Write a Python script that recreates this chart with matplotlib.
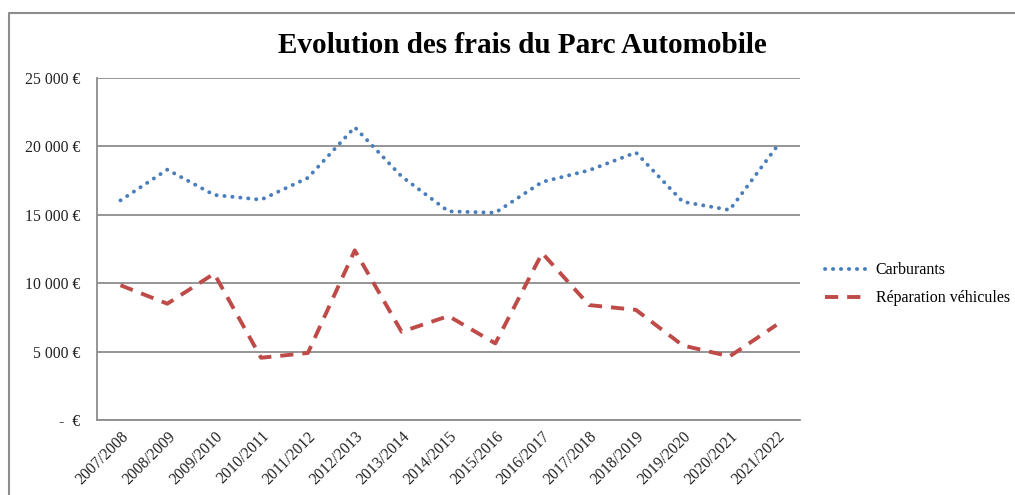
import matplotlib
matplotlib.use("Agg")
import matplotlib.pyplot as plt
from matplotlib.lines import Line2D
from matplotlib.ticker import FuncFormatter

plt.rcParams['font.family'] = ['Liberation Serif', 'DejaVu Serif']

years = ["2007/2008", "2008/2009", "2009/2010", "2010/2011", "2011/2012",
         "2012/2013", "2013/2014", "2014/2015", "2015/2016", "2016/2017",
         "2017/2018", "2018/2019", "2019/2020", "2020/2021", "2021/2022"]
carburants = [16050, 18300, 16450, 16100, 17700, 21400, 17800, 15250,
              15150, 17400, 18250, 19550, 15950, 15350, 19950]
reparation = [9850, 8500, 10700, 4550, 4900, 12400, 6450, 7600,
              5600, 12200, 8400, 8050, 5450, 4650, 6950]
yticks = [0, 5000, 10000, 15000, 20000, 25000]

fig = plt.figure(figsize=(10.15, 4.95), dpi=100)
# outer chart frame (only left and top edges visible)
fig.lines.append(Line2D([0.0085, 0.0085, 1.0], [0.0, 0.974, 0.974], transform=fig.transFigure,
                        color="#8c8c8c", linewidth=1.5))
ax = fig.add_axes([0.0956, 0.1515, 0.6925, 0.691])

x = range(len(years))
ax.plot(x, carburants, color="#4a7ebb", linestyle=(0, (0.05, 2.0)), linewidth=2.8,
        dash_capstyle="round", label="Carburants")
ax.plot(x, reparation, color="#be4b48", linestyle=(0, (3.4, 2.3)), linewidth=2.8,
        label="Réparation véhicules")

ax.set_xlim(-0.5, len(years) - 0.5)
ax.set_ylim(0, 25000)
ax.set_yticks(yticks)


def euro(v, pos):
    if v == 0:
        return "-  €"
    return f"{int(v):,}".replace(",", " ") + " €"


ax.yaxis.set_major_formatter(FuncFormatter(euro))
ax.set_xticks(list(x))
ax.set_xticklabels(years, rotation=45, ha="right", rotation_mode="anchor")
ax.tick_params(axis="both", length=0, labelsize=11.3, colors="#222222")
ax.tick_params(axis="y", pad=12)
ax.tick_params(axis="x", pad=6)

ax.grid(axis="y", color="#8c8c8c", linewidth=1.3)
ax.set_axisbelow(True)
for s in ["top", "right"]:
    ax.spines[s].set_visible(False)
ax.spines["left"].set_color("#8c8c8c")
ax.spines["bottom"].set_color("#8c8c8c")
ax.spines["left"].set_linewidth(1.3)
ax.spines["bottom"].set_linewidth(1.3)

fig.text(0.515, 0.908, "Evolution des frais du Parc Automobile", ha="center",
         va="center", fontsize=21, fontweight="bold")

fig.legend(loc="center left", bbox_to_anchor=(0.813, 0.426), frameon=False,
           fontsize=11.5, handlelength=2.6, handletextpad=0.55, labelspacing=0.75,
           borderpad=0, borderaxespad=0)

fig.savefig("out.png", dpi=100)
